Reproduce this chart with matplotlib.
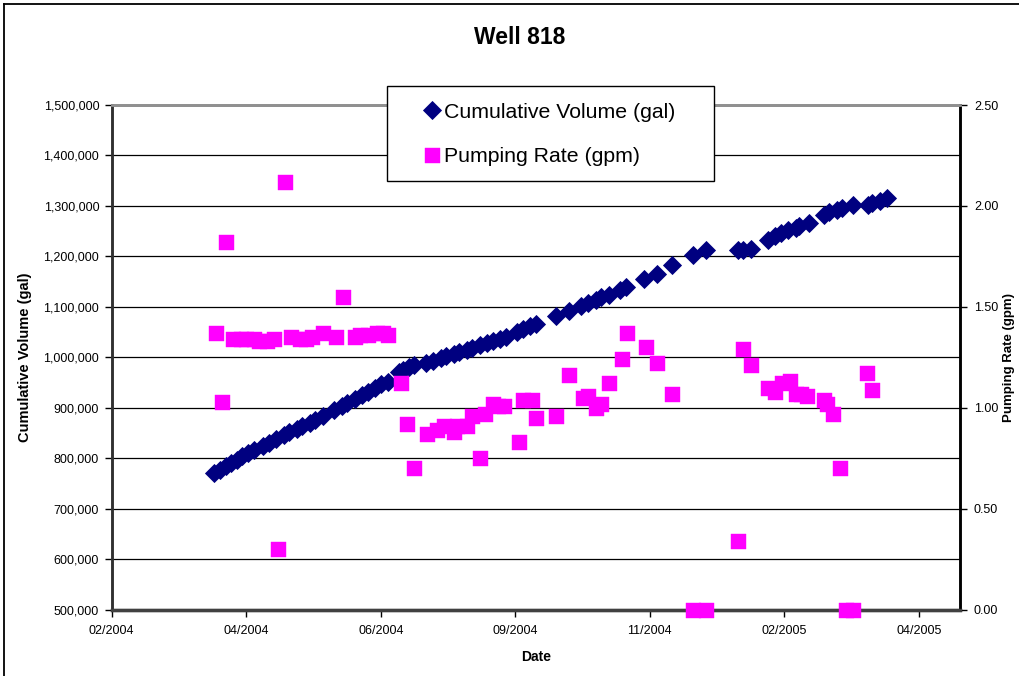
import pandas as pd
import matplotlib.pyplot as plt
import matplotlib.ticker as ticker
from matplotlib.lines import Line2D
from matplotlib.patches import Rectangle

plt.rcParams['font.family'] = ['Liberation Sans', 'DejaVu Sans']

# --- Data ---
datas_volume = [
    '2004-04-02', '2004-04-05', '2004-04-08', '2004-04-11', '2004-04-14', '2004-04-17', '2004-04-20', '2004-04-23',
    '2004-04-28', '2004-05-01', '2004-05-05', '2004-05-09', '2004-05-12', '2004-05-16', '2004-05-19', '2004-05-23',
    '2004-05-26', '2004-05-30',
    '2004-06-05', '2004-06-09', '2004-06-12', '2004-06-16', '2004-06-20', '2004-06-23', '2004-06-27', '2004-06-30',
    '2004-07-04', '2004-07-10', '2004-07-12', '2004-07-15', '2004-07-18',
    '2004-07-24', '2004-07-28', '2004-08-01', '2004-08-04', '2004-08-08', '2004-08-11', '2004-08-15', '2004-08-18',
    '2004-08-22', '2004-08-26', '2004-08-29', '2004-09-02', '2004-09-05',
    '2004-09-11', '2004-09-14', '2004-09-18', '2004-09-21',
    '2004-10-02', '2004-10-09', '2004-10-15', '2004-10-19', '2004-10-23', '2004-10-26', '2004-10-30', '2004-11-05',
    '2004-11-08', '2004-11-18', '2004-11-25', '2004-12-03', '2004-12-14', '2004-12-21',
    '2005-01-07', '2005-01-10', '2005-01-14', '2005-01-23', '2005-01-27', '2005-01-30', '2005-02-03', '2005-02-07',
    '2005-02-09', '2005-02-14', '2005-02-22', '2005-02-25', '2005-03-01', '2005-03-04', '2005-03-10', '2005-03-18',
    '2005-03-20', '2005-03-24', '2005-03-28',
]
volume_gal = [
    771000, 777000, 784000, 790000, 797000, 804000, 810000, 817000,
    824000, 831000, 838000, 845000, 851000, 858000, 864000, 870000,
    876000, 884000,
    896000, 903000, 910000, 918000, 925000, 932000, 939000, 946000,
    951000, 971000, 975000, 980000, 985000,
    989000, 993000, 998000, 1002000, 1006000, 1011000, 1015000, 1019000,
    1024000, 1028000, 1032000, 1037000, 1041000,
    1051000, 1056000, 1061000, 1066000,
    1081000, 1091000, 1101000, 1107000, 1113000, 1119000, 1123000, 1133000,
    1139000, 1155000, 1165000, 1183000, 1202000, 1213000,
    1213000, 1213000, 1215000, 1233000, 1240000, 1246000, 1252000, 1257000,
    1260000, 1267000, 1282000, 1287000, 1292000, 1295000, 1302000, 1302000,
    1305000, 1310000, 1315000,
]

datas_vazao = [
    '2004-04-03', '2004-04-06', '2004-04-08', '2004-04-12', '2004-04-16', '2004-04-19', '2004-04-23', '2004-04-26',
    '2004-04-30', '2004-05-04', '2004-05-06', '2004-05-10', '2004-05-13', '2004-05-18', '2004-05-21', '2004-05-24',
    '2004-05-30', '2004-06-06', '2004-06-10', '2004-06-16', '2004-06-19', '2004-06-23', '2004-06-28', '2004-07-01',
    '2004-07-04', '2004-07-11', '2004-07-14', '2004-07-18', '2004-07-25', '2004-07-30', '2004-08-03', '2004-08-08',
    '2004-08-10', '2004-08-15', '2004-08-18', '2004-08-22', '2004-08-25', '2004-08-29', '2004-09-01', '2004-09-04',
    '2004-09-12', '2004-09-14', '2004-09-19', '2004-09-21', '2004-10-02', '2004-10-09', '2004-10-16', '2004-10-19',
    '2004-10-23', '2004-10-26', '2004-10-30', '2004-11-06', '2004-11-09', '2004-11-19', '2004-11-25', '2004-12-03',
    '2004-12-14', '2004-12-21', '2005-01-07', '2005-01-10', '2005-01-14', '2005-01-23', '2005-01-27', '2005-01-31',
    '2005-02-04', '2005-02-07', '2005-02-10', '2005-02-13', '2005-02-22', '2005-02-24', '2005-02-27', '2005-03-03',
    '2005-03-06', '2005-03-10', '2005-03-17', '2005-03-20',
]
vazao_gpm = [
    1.37, 1.03, 1.82, 1.34, 1.34, 1.34, 1.34, 1.33, 1.33, 1.34,
    0.30, 2.12, 1.35, 1.34, 1.34, 1.35, 1.37, 1.35, 1.55, 1.35,
    1.36, 1.36, 1.37, 1.37, 1.36, 1.12, 0.92, 0.70, 0.87, 0.89,
    0.91, 0.88, 0.91, 0.91, 0.96, 0.75, 0.97, 1.02, 1.01, 1.01,
    0.83, 1.04, 1.04, 0.95, 0.96, 1.16, 1.05, 1.06, 1.00, 1.02,
    1.12, 1.24, 1.37, 1.30, 1.22, 1.07, 0.00, 0.00, 0.34, 1.29,
    1.21, 1.10, 1.08, 1.12, 1.13, 1.07, 1.07, 1.06, 1.04, 1.02,
    0.97, 0.70, 0.00, 0.00, 1.17, 1.09,
]

# Excel date axis: starts 2004-02-07, one major tick every 72 days
ticks_x = ['2004-02-07', '2004-04-19', '2004-06-30', '2004-09-10', '2004-11-21', '2005-02-01', '2005-04-14']
rotulos_x = ['02/2004', '04/2004', '06/2004', '09/2004', '11/2004', '02/2005', '04/2005']
fim_x = '2005-05-06'

W, H = 1019, 676
fig = plt.figure(figsize=(W / 100, H / 100), dpi=100)
ax = fig.add_axes([111.7 / W, 1 - 609.5 / H, (960 - 111.7) / W, (609.5 - 105) / H])
ax2 = ax.twinx()

# --- Series ---
ax.plot(pd.to_datetime(datas_volume), volume_gal, linestyle='none', marker='D',
        markersize=9, color='#000080', markeredgecolor='#000080', markeredgewidth=0.6,
        label='Cumulative Volume (gal)', zorder=3)
ax2.plot(pd.to_datetime(datas_vazao), vazao_gpm, linestyle='none', marker='s',
         markersize=10.8, color='#FF00FF', markeredgecolor='#FF00FF', markeredgewidth=0.3,
         label='Pumping Rate (gpm)', clip_on=False, zorder=3)

# --- Axes ---
ax.set_xlim(pd.Timestamp(ticks_x[0]), pd.Timestamp(fim_x))
ax.set_xticks(pd.to_datetime(ticks_x))
ax.set_xticklabels(rotulos_x)

ax.set_ylim(500000, 1500000)
ax.yaxis.set_major_locator(ticker.MultipleLocator(100000))
ax.yaxis.set_major_formatter(ticker.FuncFormatter(lambda v, p: f'{v:,.0f}'))
ax2.set_ylim(0, 2.5)
ax2.yaxis.set_major_locator(ticker.MultipleLocator(0.5))
ax2.yaxis.set_major_formatter(ticker.FormatStrFormatter('%.2f'))

ax.grid(axis='y', color='black', linewidth=0.9)
ax.set_axisbelow(True)

for a in (ax, ax2):
    a.spines['top'].set_color('#909090')
    a.spines['top'].set_linewidth(2)
    a.spines['left'].set_color('#303030')
    a.spines['left'].set_linewidth(1.8)
    a.spines['right'].set_color('black')
    a.spines['right'].set_linewidth(1.8)
    a.spines['bottom'].set_color('#404040')
    a.spines['bottom'].set_linewidth(2.4)

ax.tick_params(axis='x', direction='out', length=5, width=1, pad=6, labelsize=9)
ax.tick_params(axis='y', direction='out', length=5, width=1, pad=4, labelsize=9)
ax2.tick_params(axis='y', direction='out', length=5, width=1, pad=5, labelsize=9)

ax.set_xlabel('Date', fontsize=10, fontweight='bold')
ax.xaxis.set_label_coords(0.5, -0.08)
ax.set_ylabel('Cumulative Volume (gal)', fontsize=10.5, fontweight='bold')
ax.yaxis.set_label_coords(-0.094, 0.5)
ax2.set_ylabel('Pumping Rate (gpm)', fontsize=9.5, fontweight='bold', rotation=90,
               va='center', ha='center')
ax2.yaxis.set_label_coords(1.0575, 0.5)

fig.text(520 / W, 1 - 38 / H, 'Well 818', ha='center', va='center', fontsize=16.5, fontweight='bold')

# Outer chart-area frame (only top and left edges are visible)
fig.add_artist(Line2D([4 / W, 1], [1 - 4 / H, 1 - 4 / H], color='black', linewidth=1.3))
fig.add_artist(Line2D([4 / W, 4 / W], [0, 1 - 4 / H], color='black', linewidth=1.3))

# --- Legend ---
fig.add_artist(Rectangle((387 / W, 1 - 181 / H), 327 / W, 95 / H, transform=fig.transFigure,
                         facecolor='white', edgecolor='black', linewidth=1, zorder=4))
h1, l1 = ax.get_legend_handles_labels()
h2, l2 = ax2.get_legend_handles_labels()
fig.legend(h1 + h2, l1 + l2, loc='center left', bbox_to_anchor=(423 / W, 1 - 134.5 / H),
           frameon=False, fontsize=15.3, handlelength=0.8, handletextpad=0.2,
           labelspacing=1.2, borderpad=0, borderaxespad=0).set_zorder(5)

fig.savefig('out.png', dpi=100, facecolor='white')
